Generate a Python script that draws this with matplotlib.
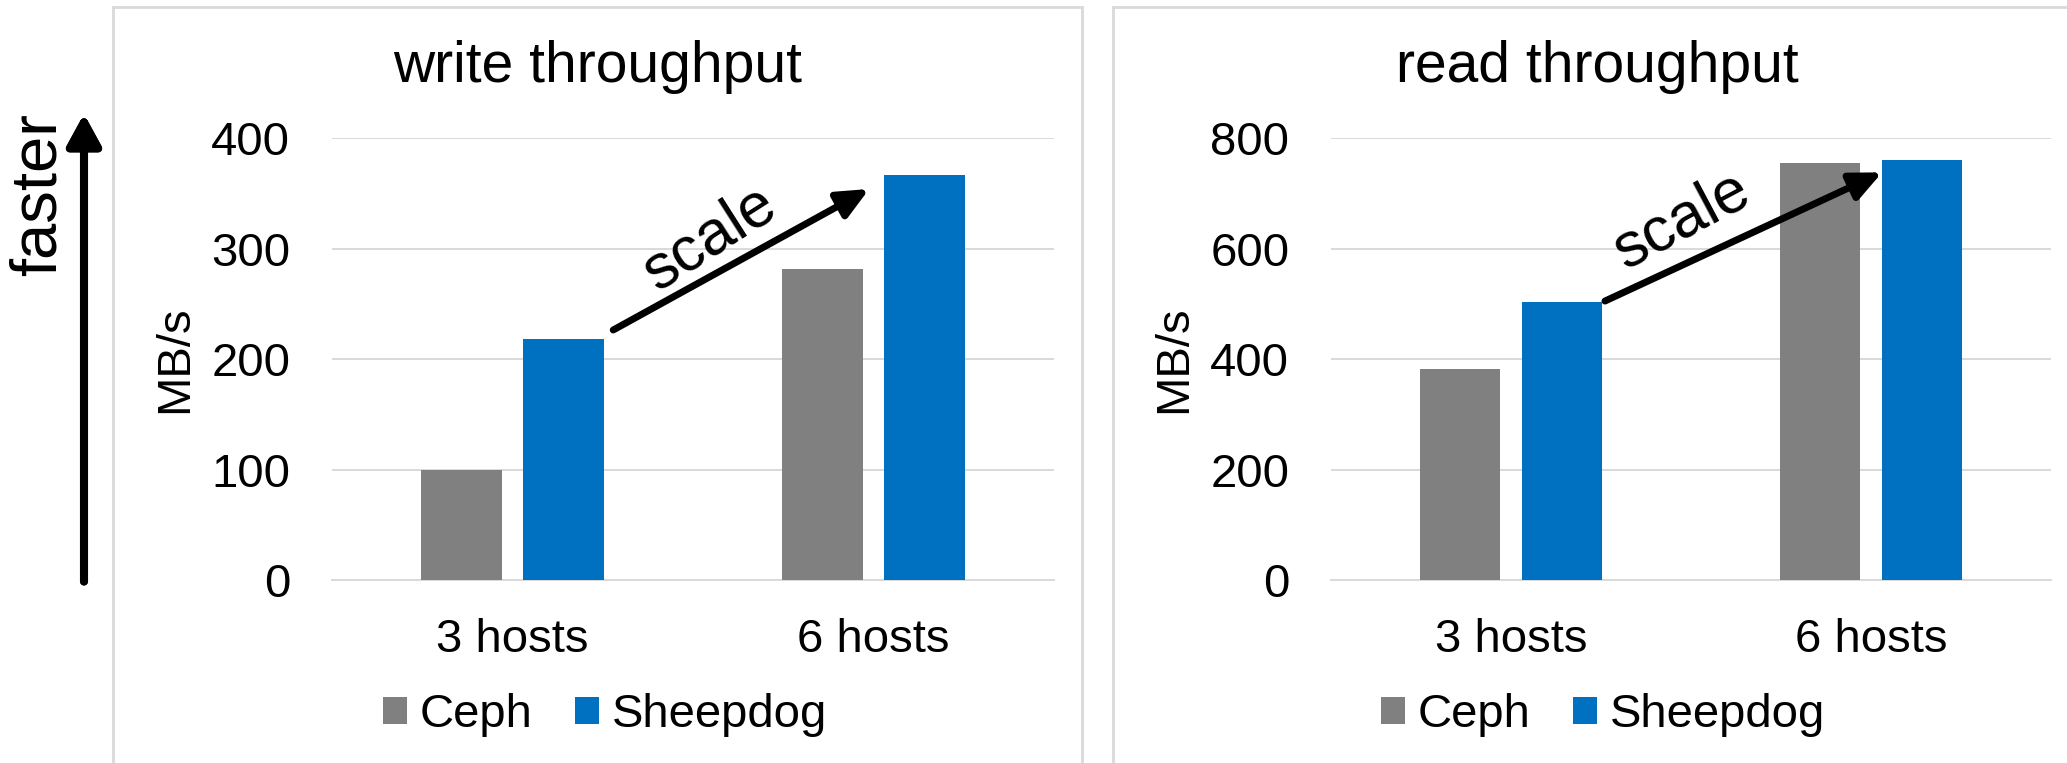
import matplotlib
matplotlib.use('Agg')
import matplotlib.pyplot as plt
from matplotlib.patches import Rectangle, Patch
import numpy as np

plt.rcParams['font.family'] = ['Liberation Sans', 'DejaVu Sans']

# 数据
hosts = ['3 hosts', '6 hosts']
series = ['Ceph', 'Sheepdog']
write_ceph = [100, 282]
write_sheepdog = [218, 367]
read_ceph = [382, 755]
read_sheepdog = [503, 761]

COLORS = ['#808080', '#0070C0']
GRID = '#D9D9D9'
W, H = 2067, 763


def fx(px):
    return px / W


def fy(py):
    return 1 - py / H


def draw_panel(fig, rect, title, title_x, ceph, sheep, ymax, step,
               arrow_from, arrow_to, scale_xy, scale_rot, legend_x):
    ax = fig.add_axes(rect)
    x = np.arange(len(hosts))
    width = 0.223
    off = 0.1418
    ax.bar(x - off, ceph, width, color=COLORS[0], label=series[0], zorder=3)
    ax.bar(x + off, sheep, width, color=COLORS[1], label=series[1], zorder=3)

    ax.set_xlim(-0.5, 1.5)
    ax.set_ylim(0, ymax)
    ax.set_yticks(np.arange(0, ymax + 1, step))
    ax.set_xticks(x)
    ax.set_xticklabels(hosts)
    ax.tick_params(axis='both', length=0, labelsize=34)
    ax.tick_params(axis='y', pad=30)
    ax.tick_params(axis='x', pad=27)
    ax.grid(axis='y', color=GRID, lw=1.4, zorder=0)
    ax.set_axisbelow(True)
    for s in ax.spines.values():
        s.set_visible(False)
    ax.axhline(0, color=GRID, lw=1.4, zorder=1, clip_on=False)
    ax.set_xlim(-0.5, 1.5)

    ax.text(-0.2175, 0.5, 'MB/s', transform=ax.transAxes, rotation=90,
            ha='center', va='center', fontsize=34)

    fig.text(title_x, fy(82), title, ha='center', va='baseline', fontsize=41)

    # scale 箭头
    ax.annotate('', xy=arrow_to, xytext=arrow_from, xycoords='data',
                arrowprops=dict(arrowstyle='-|>,head_length=0.55,head_width=0.25',
                                mutation_scale=34, lw=5, color='black',
                                shrinkA=0, shrinkB=0), zorder=5)
    ax.text(scale_xy[0], scale_xy[1], 'scale', rotation=scale_rot,
            rotation_mode='anchor', ha='center', va='center', fontsize=45,
            zorder=6)

    handles = [Patch(facecolor=COLORS[0]), Patch(facecolor=COLORS[1])]
    ax.legend(handles, series, loc='center',
              bbox_to_anchor=(legend_x, fy(715)), bbox_transform=fig.transFigure,
              ncol=2, frameon=False, fontsize=34, handlelength=0.517,
              handleheight=0.517, handletextpad=0.26, columnspacing=0.9,
              borderpad=0, borderaxespad=0)
    return ax


fig = plt.figure(figsize=(W / 100, H / 100), dpi=100)

# 面板边框
fig.add_artist(Rectangle((fx(113), -0.05), fx(1082 - 113), fy(7) + 0.05,
                         transform=fig.transFigure, fill=False,
                         ec=GRID, lw=2))
fig.add_artist(Rectangle((fx(1113), -0.05), fx(2100 - 1113), fy(7) + 0.05,
                         transform=fig.transFigure, fill=False,
                         ec=GRID, lw=2))

ax_bottom = fy(580)
ax_height = (580 - 138.3) / H

draw_panel(fig, [fx(332), ax_bottom, fx(722), ax_height], 'write throughput',
           fx(597.5), write_ceph, write_sheepdog, 400, 100,
           (0.279, 226.4), (0.988, 354.1), (0.545, 309), 32.5, fx(605))
draw_panel(fig, [fx(1331), ax_bottom, fx(720), ax_height], 'read throughput',
           fx(1597), read_ceph, read_sheepdog, 800, 200,
           (0.261, 505.2), (1.031, 738.3), (0.4735, 651), 28, fx(1603))

# faster 箭头
fig.add_artist(plt.annotate('', xy=(fx(84), fy(114)), xytext=(fx(84), fy(581.5)),
                            xycoords='figure fraction',
                            arrowprops=dict(arrowstyle='-|>,head_length=0.55,head_width=0.3',
                                            mutation_scale=34, lw=5.8, color='black',
                                            shrinkA=0, shrinkB=0)))
fig.text(fx(39), fy(194.5), 'faster', rotation=90, ha='center', va='center',
         fontsize=47)

plt.savefig('out.png', dpi=100)
